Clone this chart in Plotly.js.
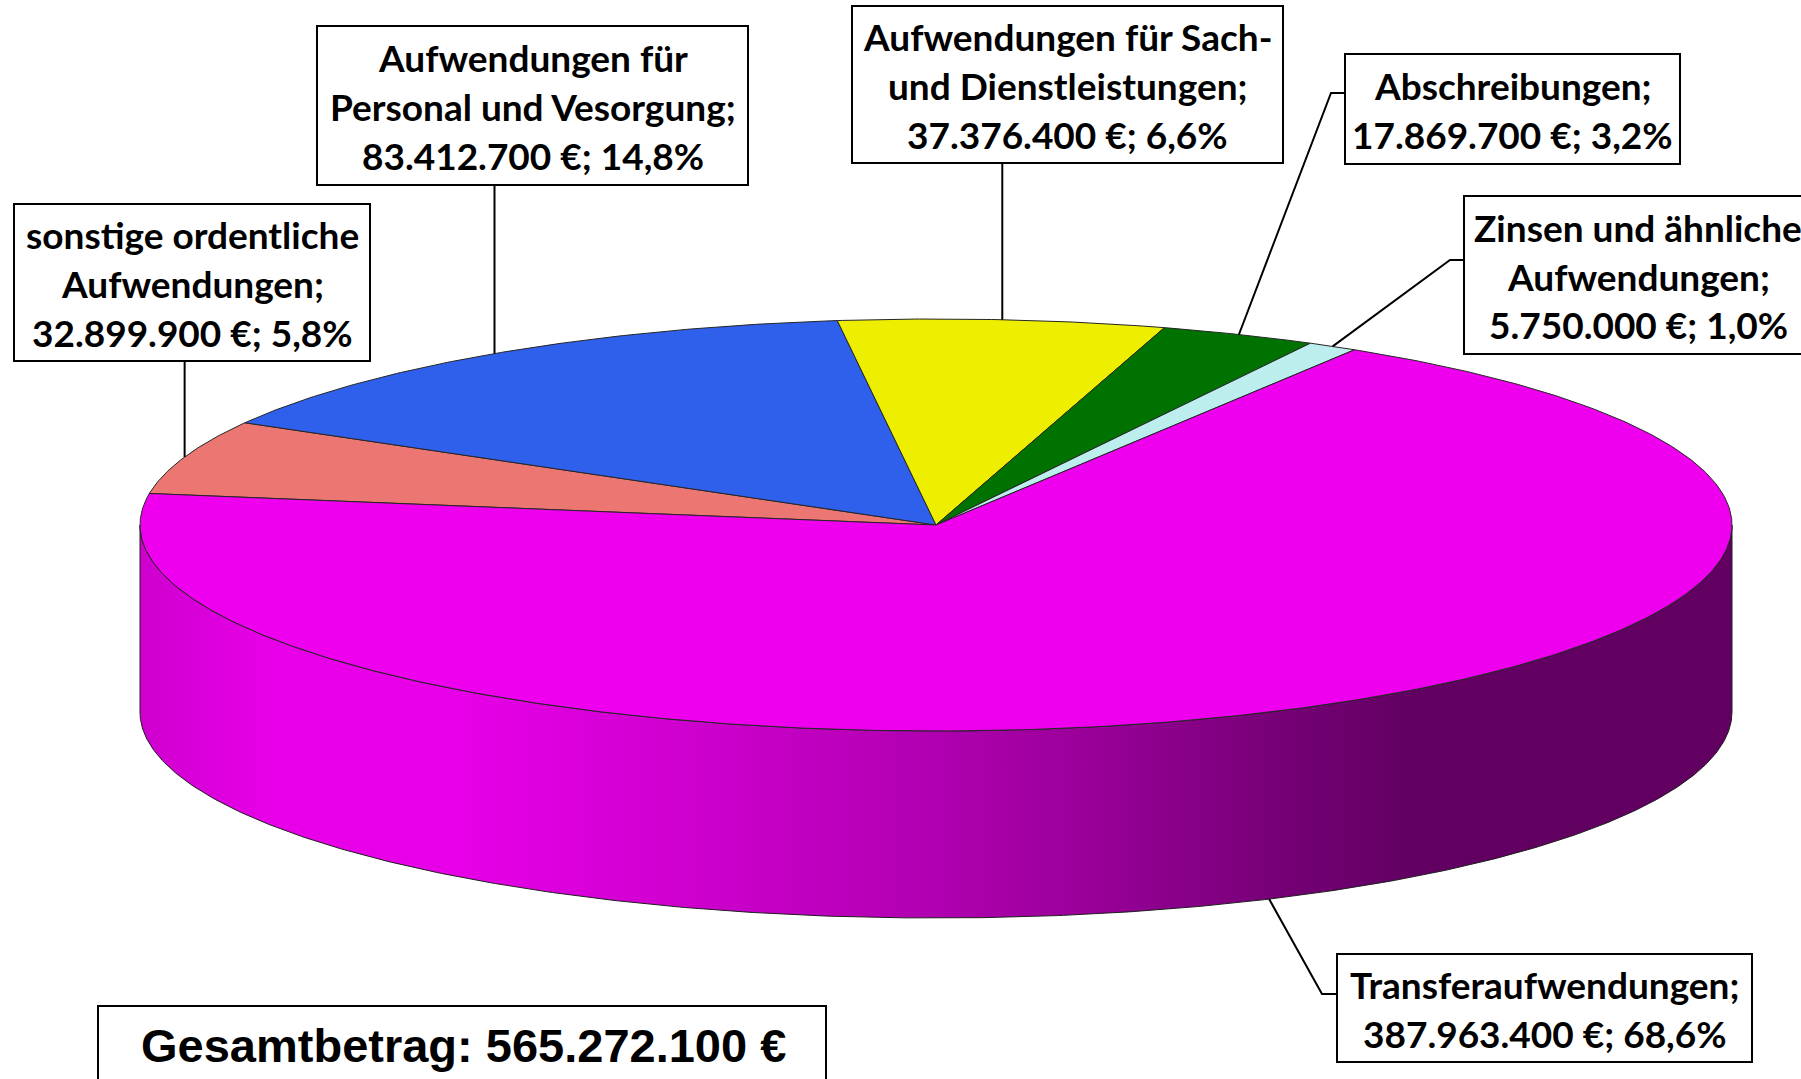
<!DOCTYPE html>
<html>
<head>
<meta charset="utf-8">
<script src="https://cdn.plot.ly/plotly-3.0.1.min.js"></script>
<style>
html,body{margin:0;padding:0;background:#ffffff;overflow:hidden}
#chart{width:1801px;height:1079px}
</style>
</head>
<body>
<div id="chart"></div>
<script>
// ---------------- data ----------------
const categories = [
  'sonstige ordentliche Aufwendungen',
  'Aufwendungen für Personal und Vesorgung',
  'Aufwendungen für Sach- und Dienstleistungen',
  'Abschreibungen',
  'Zinsen und ähnliche Aufwendungen',
  'Transferaufwendungen'
];
const nameLines = [
  ['sonstige ordentliche', 'Aufwendungen;'],
  ['Aufwendungen für', 'Personal und Vesorgung;'],
  ['Aufwendungen für Sach-', 'und Dienstleistungen;'],
  ['Abschreibungen;'],
  ['Zinsen und ähnliche', 'Aufwendungen;'],
  ['Transferaufwendungen;']
];
const values = [32899900, 83412700, 37376400, 17869700, 5750000, 387963400];
const sliceColors = ['#EC7672', '#2E60EC', '#EEEE00', '#007200', '#BDEEEE', '#EE00EE'];
const totalText = 'Gesamtbetrag';

// ---------------- layout constants ----------------
const W = 1801, H = 1079;
const CX = 936, CY = 525, RX = 796, RY = 206, DEPTH = 187, START_DEG = 171.2;
const LINE_GAP = 48.7;
const labelBoxes = [
  {x0: 14,   x1: 370,  y0: 204, y1: 361},
  {x0: 317,  x1: 748,  y0: 26,  y1: 185},
  {x0: 852,  x1: 1283, y0: 6,   y1: 163},
  {x0: 1345, x1: 1680, y0: 54,  y1: 164},
  {x0: 1464, x1: 1812, y0: 196, y1: 354, tx: 1638},
  {x0: 1337, x1: 1752, y0: 954, y1: 1062}
];
const leaderElbows = [
  null, null, null,
  [[1331, 93], [1345, 93]],
  [[1450, 260], [1464, 260]],
  [[1322, 994], [1337, 994]]
];
const totalBox = {x0: 98, x1: 826, y0: 1006, y1: 1095, tx: 463, ty: 1045};
// brightness profile of the side wall (fraction across the pie width -> factor)
const sideShade = [[0, 0.86], [0.08, 0.97], [0.2, 0.97], [0.35, 0.86], [0.5, 0.74], [0.6, 0.64], [0.73, 0.48], [0.8, 0.41], [1, 0.41]];

// ---------------- helpers ----------------
const fmtDe = n => String(Math.round(n)).replace(/\B(?=(\d{3})+(?!\d))/g, '.');
const fmtPct = p => p.toFixed(1).replace('.', ',');
const rad = d => d * Math.PI / 180;
const ex = t => CX + RX * Math.cos(rad(t));
const ey = t => CY - RY * Math.sin(rad(t));
function hexRgb(h) { const n = parseInt(h.slice(1), 16); return [(n >> 16) & 255, (n >> 8) & 255, n & 255]; }
function shade(h, f) { const c = hexRgb(h).map(v => Math.round(v * f)); return 'rgb(' + c.join(',') + ')'; }
function arc(a, b) { // sample from angle a to angle b
  const pts = []; const n = Math.max(2, Math.ceil(Math.abs(b - a) / 0.4));
  for (let k = 0; k <= n; k++) pts.push(a + (b - a) * k / n);
  return pts;
}

const total = values.reduce((s, v) => s + v, 0);
let cum = 0;
const slices = values.map(v => {
  const a0 = START_DEG - cum / total * 360; cum += v;
  const a1 = START_DEG - cum / total * 360;
  return {a0, a1, mid: (a0 + a1) / 2};
});

const traces = [];
// side walls (visible front half)
slices.forEach((s, i) => {
  for (let k = -2; k <= 1; k++) {
    const lo = Math.max(s.a1, 180 + 360 * k), hi = Math.min(s.a0, 360 + 360 * k);
    if (hi <= lo) continue;
    const top = arc(lo, hi), bot = arc(hi, lo);
    const xs = top.map(ex).concat(bot.map(ex)); xs.push(xs[0]);
    const ys = top.map(ey).concat(bot.map(t => ey(t) + DEPTH)); ys.push(ys[0]);
    traces.push({
      type: 'scatter', mode: 'lines', x: xs, y: ys, fill: 'toself',
      fillgradient: {type: 'horizontal', start: CX - RX, stop: CX + RX,
        colorscale: sideShade.map(([p, f]) => [p, shade(sliceColors[i], f)])},
      line: {color: '#1e1e1e', width: 1}, hoverinfo: 'skip', showlegend: false
    });
  }
});
// top faces
slices.forEach((s, i) => {
  const a = arc(s.a0, s.a1);
  const xs = [CX].concat(a.map(ex), [CX]);
  const ys = [CY].concat(a.map(ey), [CY]);
  traces.push({
    type: 'scatter', mode: 'lines', x: xs, y: ys, fill: 'toself', fillcolor: sliceColors[i],
    line: {color: '#262626', width: 1}, name: categories[i], hoverinfo: 'skip', showlegend: false
  });
});

// labels, boxes, leaders
const shapes = [], annotations = [];
const labelFont = {family: 'Lato, Carlito, "Open Sans", sans-serif', size: 37, color: '#000000', weight: 'bold'};
slices.forEach((s, i) => {
  const b = labelBoxes[i];
  // leader line
  let ax = ex(s.mid), ay = ey(s.mid);
  if (Math.sin(rad(s.mid)) < 0) ay += DEPTH;
  let path = 'M ' + ax + ' ' + ay;
  if (leaderElbows[i]) leaderElbows[i].forEach(p => { path += ' L ' + p[0] + ' ' + p[1]; });
  else path += ' L ' + ax + ' ' + b.y1;
  shapes.push({type: 'path', xref: 'x', yref: 'y', path: path, line: {color: '#000', width: 2}});
  shapes.push({type: 'rect', xref: 'x', yref: 'y', x0: b.x0, x1: b.x1, y0: b.y0, y1: b.y1,
    fillcolor: '#ffffff', line: {color: '#000', width: 2}});
  const lines = nameLines[i].concat([fmtDe(values[i]) + ' €; ' + fmtPct(values[i] / total * 100) + '%']);
  const cy = (b.y0 + b.y1) / 2 + 1;
  const tx = b.tx !== undefined ? b.tx : (b.x0 + b.x1) / 2;
  lines.forEach((t, j) => {
    annotations.push({xref: 'x', yref: 'y', x: tx, y: cy + (j - (lines.length - 1) / 2) * LINE_GAP,
      text: t, showarrow: false, xanchor: 'center', yanchor: 'middle', font: labelFont});
  });
});
shapes.push({type: 'rect', xref: 'x', yref: 'y', x0: totalBox.x0, x1: totalBox.x1, y0: totalBox.y0, y1: totalBox.y1,
  fillcolor: '#ffffff', line: {color: '#000', width: 2}});
annotations.push({xref: 'x', yref: 'y', x: totalBox.tx, y: totalBox.ty,
  text: totalText + ': ' + fmtDe(total) + ' €', showarrow: false, xanchor: 'center', yanchor: 'middle',
  font: {family: '"Liberation Sans", Arial, sans-serif', size: 47, color: '#000000', weight: 'bold'}});

const layout = {
  width: W, height: H, margin: {l: 0, r: 0, t: 0, b: 0, pad: 0},
  paper_bgcolor: '#ffffff', plot_bgcolor: '#ffffff', showlegend: false,
  xaxis: {range: [0, W], visible: false, fixedrange: true},
  yaxis: {range: [H, 0], visible: false, fixedrange: true},
  shapes: shapes, annotations: annotations
};
Plotly.newPlot('chart', traces, layout, {displayModeBar: false, staticPlot: true});
</script>
</body>
</html>
